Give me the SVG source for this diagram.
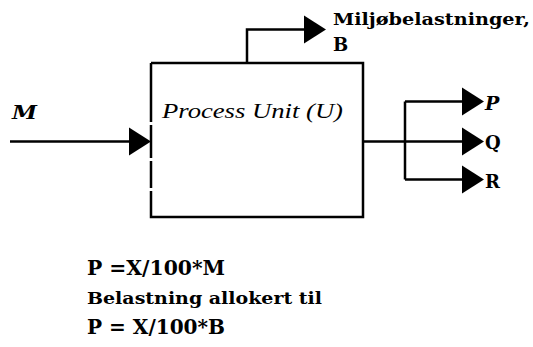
<svg xmlns="http://www.w3.org/2000/svg" width="533" height="347" viewBox="0 0 533 347">
<style>
.ln{fill:none;stroke:#000;stroke-width:2.5}
.ah{fill:#000}
.t{font-family:"DejaVu Serif","Liberation Serif",serif;font-weight:bold;fill:#000}
.it{font-family:"Liberation Serif",serif;font-style:italic;fill:#000}
</style>
<defs>
<path id="arrow" d="M-22,-14 L0,0 L-22,14 Z"/>
</defs>
<rect width="533" height="347" fill="#fff"/>
<g id="process-unit">
<path class="ln" d="M151,63 H363 V217 H151 V191 M151,188 V161 M151,158 V125 M151,122 V63"/>
<text class="it" x="162" y="118" font-size="20" textLength="181" lengthAdjust="spacingAndGlyphs">Process Unit (U)</text>
</g>
<g id="connectors">
<path class="ln" d="M10,141.5 H130"/>
<use href="#arrow" class="ah" x="151" y="141.5"/>
<path class="ln" d="M247,63 V29.5 H306"/>
<use href="#arrow" class="ah" x="326" y="29.5"/>
<path class="ln" d="M363,141.5 H464 M405,101.5 V179.5 M405,101.5 H464 M405,179.5 H464"/>
<use href="#arrow" class="ah" x="484" y="101.5"/>
<use href="#arrow" class="ah" x="484" y="141.5"/>
<use href="#arrow" class="ah" x="484" y="179.5"/>
</g>
<g id="label-M"><text class="t" x="12" y="119" font-size="18" font-style="italic" textLength="25" lengthAdjust="spacingAndGlyphs">M</text></g>
<g id="label-B">
<text class="t" x="333" y="25" font-size="17" textLength="197" lengthAdjust="spacingAndGlyphs">Miljøbelastninger,</text>
<text class="t" x="333" y="51" font-size="18">B</text>
</g>
<g id="label-P"><text class="t" x="485" y="110" font-size="19" font-style="italic">P</text></g>
<g id="label-Q"><text class="t" x="485" y="149" font-size="18">Q</text></g>
<g id="label-R"><text class="t" x="485" y="188" font-size="18">R</text></g>
<g id="formulas">
<text class="t" x="87" y="275" font-size="20" textLength="138" lengthAdjust="spacingAndGlyphs">P =X/100*M</text>
<text class="t" x="87" y="304" font-size="17" textLength="235" lengthAdjust="spacingAndGlyphs">Belastning allokert til</text>
<text class="t" x="87" y="334" font-size="20" textLength="138" lengthAdjust="spacingAndGlyphs">P = X/100*B</text>
</g>
</svg>
